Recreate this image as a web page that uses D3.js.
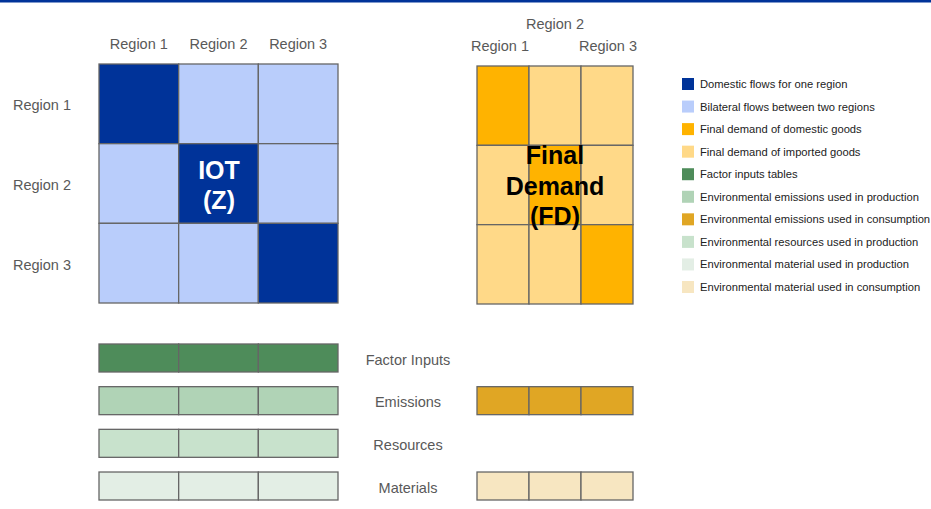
<!DOCTYPE html>
<html>
<head>
<meta charset="utf-8">
<script src="https://cdn.jsdelivr.net/npm/d3@7"></script>
<style>
  body { margin: 0; background: #fff; }
  text { font-family: 'Liberation Sans', Arial, sans-serif; }
</style>
</head>
<body>
<div id="svgContainer"></div>
<script>
const width = 931,
  height = 509

// data
const regions = ['Region 1', 'Region 2', 'Region 3']
// which block type each cell of the IOT (row region -> column region)
const iotCells = [
  ['dom', 'bil', 'bil'],
  ['bil', 'dom', 'bil'],
  ['bil', 'bil', 'dom']
]
const fdCells = [
  ['fdDom', 'fdImp', 'fdImp'],
  ['fdImp', 'fdDom', 'fdImp'],
  ['fdImp', 'fdImp', 'fdDom']
]
const satRows = ['Factor Inputs', 'Emissions', 'Resources', 'Materials']
const satTypes = ['factor', 'emProd', 'resProd', 'matProd']
const fdSatRows = ['Emissions', 'Materials']
const fdSatTypes = ['emCons', 'matCons']

const legendKeys = ['dom', 'bil', 'fdDom', 'fdImp', 'factor', 'emProd', 'emCons', 'resProd', 'matProd', 'matCons']
const legendLabels = [
  'Domestic flows for one region',
  'Bilateral flows between two regions',
  'Final demand of domestic goods',
  'Final demand of imported goods',
  'Factor inputs tables',
  'Environmental emissions used in production',
  'Environmental emissions used in consumption',
  'Environmental resources used in production',
  'Environmental material used in production',
  'Environmental material used in consumption'
]
const colors = ['#003399', '#b9cdfb', '#ffb300', '#ffd988', '#4e8c5a', '#b0d3b6', '#e0a624', '#c8e2cc', '#e3eee5', '#f7e6c1']

const color = d3.scaleOrdinal().domain(legendKeys).range(colors)

const svg = d3.select('#svgContainer')
              .append('svg')
              .attr('width', width)
              .attr('height', height)

svg.append('rect')
   .attr('x', 0).attr('y', 0)
   .attr('width', width).attr('height', 2.5)
   .style('fill', '#003399')

// scales
const xIot = d3.scaleBand().domain(regions).range([99, 338])
const yIot = d3.scaleBand().domain(regions).range([64, 303])
const xFd = d3.scaleBand().domain(regions).range([477, 633])
const yFd = d3.scaleBand().domain(regions).range([66, 304])
const ySat = d3.scaleBand().domain(satRows).range([344, 500]).paddingInner(0.344)
const yLegend = d3.scalePoint().domain(legendLabels).range([84, 287])

const stroke = '#666'
const labelColor = '#595959'

function flatten(cells) {
  const out = []
  cells.forEach((row, i) => row.forEach((t, j) => out.push({ r: regions[i], c: regions[j], t: t })))
  return out
}

// IOT matrix
svg.append('g').selectAll('rect')
   .data(flatten(iotCells))
   .enter().append('rect')
   .attr('x', d => xIot(d.c))
   .attr('y', d => yIot(d.r))
   .attr('width', xIot.bandwidth())
   .attr('height', yIot.bandwidth())
   .style('fill', d => color(d.t))
   .style('stroke', stroke)
   .style('stroke-width', 1.3)

// FD matrix
svg.append('g').selectAll('rect')
   .data(flatten(fdCells))
   .enter().append('rect')
   .attr('x', d => xFd(d.c))
   .attr('y', d => yFd(d.r))
   .attr('width', xFd.bandwidth())
   .attr('height', yFd.bandwidth())
   .style('fill', d => color(d.t))
   .style('stroke', stroke)
   .style('stroke-width', 1.3)

// satellite bars under the IOT
satRows.forEach((name, i) => {
  svg.append('g').selectAll('rect')
     .data(regions)
     .enter().append('rect')
     .attr('x', d => xIot(d))
     .attr('y', ySat(name))
     .attr('width', xIot.bandwidth())
     .attr('height', ySat.bandwidth())
     .style('fill', color(satTypes[i]))
     .style('stroke', stroke)
     .style('stroke-width', 1.3)

  svg.append('text')
     .attr('x', 408)
     .attr('y', ySat(name) + ySat.bandwidth() / 2)
     .attr('dy', '0.45em')
     .attr('text-anchor', 'middle')
     .attr('font-size', '14.5px')
     .style('fill', labelColor)
     .text(name)
})

// satellite bars under FD
fdSatRows.forEach((name, i) => {
  svg.append('g').selectAll('rect')
     .data(regions)
     .enter().append('rect')
     .attr('x', d => xFd(d))
     .attr('y', ySat(name))
     .attr('width', xFd.bandwidth())
     .attr('height', ySat.bandwidth())
     .style('fill', color(fdSatTypes[i]))
     .style('stroke', stroke)
     .style('stroke-width', 1.3)
})

// region labels
svg.append('g').selectAll('text')
   .data(regions)
   .enter().append('text')
   .attr('x', d => xIot(d) + xIot.bandwidth() / 2)
   .attr('y', 49)
   .attr('text-anchor', 'middle')
   .attr('font-size', '14.5px')
   .style('fill', labelColor)
   .text(d => d)

svg.append('g').selectAll('text')
   .data(regions)
   .enter().append('text')
   .attr('x', 42)
   .attr('y', d => yIot(d) + yIot.bandwidth() / 2)
   .attr('dy', '0.45em')
   .attr('text-anchor', 'middle')
   .attr('font-size', '14.5px')
   .style('fill', labelColor)
   .text(d => d)

// FD column labels: middle one raised so they don't collide
svg.append('g').selectAll('text')
   .data(regions)
   .enter().append('text')
   .attr('x', (d, i) => xFd(d) + xFd.bandwidth() / 2 + (i === 0 ? -3 : i === 2 ? 1 : 0))
   .attr('y', (d, i) => i === 1 ? 29 : 51)
   .attr('text-anchor', 'middle')
   .attr('font-size', '14.5px')
   .style('fill', labelColor)
   .text(d => d)

// block titles
const iotTitle = svg.append('text')
   .attr('text-anchor', 'middle')
   .attr('font-size', '25px')
   .attr('font-weight', 'bold')
   .style('fill', '#fff')
iotTitle.append('tspan').attr('x', 219).attr('y', 179).text('IOT')
iotTitle.append('tspan').attr('x', 219).attr('y', 209).text('(Z)')

const fdTitle = svg.append('text')
   .attr('text-anchor', 'middle')
   .attr('font-size', '25px')
   .attr('font-weight', 'bold')
   .style('fill', '#000')
fdTitle.append('tspan').attr('x', 555).attr('y', 164).text('Final')
fdTitle.append('tspan').attr('x', 555).attr('y', 195).text('Demand')
fdTitle.append('tspan').attr('x', 555).attr('y', 225).text('(FD)')

// legend
const legend = svg.append('g').attr('class', 'legend')

legend.selectAll('rect')
      .data(legendLabels)
      .enter().append('rect')
      .attr('x', 682)
      .attr('y', d => yLegend(d) - 6)
      .attr('width', 12)
      .attr('height', 12)
      .style('fill', (d, i) => color(legendKeys[i]))

legend.selectAll('text')
      .data(legendLabels)
      .enter().append('text')
      .attr('x', 700)
      .attr('y', d => yLegend(d))
      .attr('dy', '0.36em')
      .attr('font-size', '11.2px')
      .style('fill', '#222')
      .text(d => d)
</script>
</body>
</html>
